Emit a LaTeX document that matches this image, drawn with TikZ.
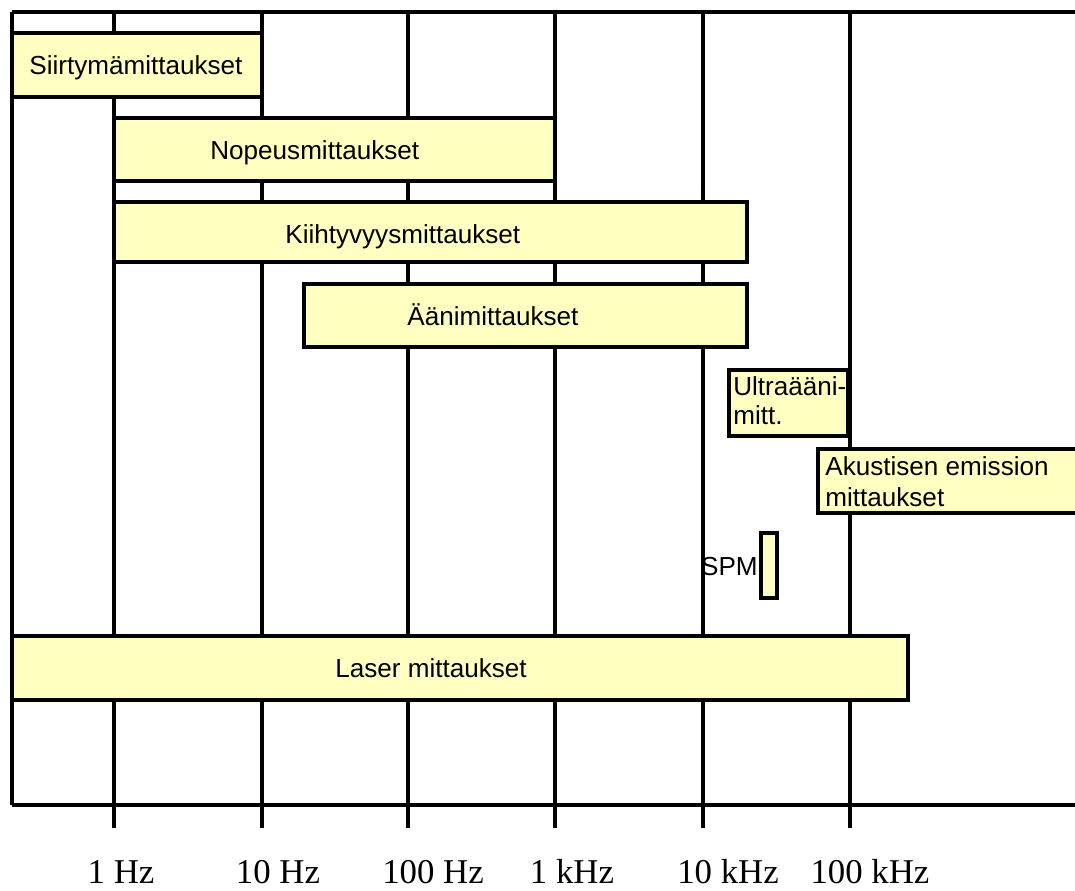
\documentclass[tikz,border=0pt]{standalone}
\usepackage{fontspec}
\setmainfont{Liberation Serif}
\setsansfont{Liberation Sans}
\definecolor{barfill}{RGB}{255,255,194}
\tikzstyle{gridline}=[line width=1.8pt]
\tikzstyle{thickline}=[line width=2.8pt]
\tikzstyle{bar}=[draw,fill=barfill,line width=2pt]
\tikzstyle{txt}=[inner sep=0pt,font=\sffamily\fontsize{14.85}{17.4}\selectfont]
\tikzstyle{freq}=[inner sep=0pt,font=\fontsize{19.8}{22}\selectfont]

\begin{document}
\begin{tikzpicture}[x=0.02cm,y=-0.02cm]
	\useasboundingbox (0,0) rectangle (1075,890);
	\clip (0,0) rectangle (1075,890);
	% frame and decades
	\draw[line width=2.2pt] (12,12) -- (1075,12);
	\draw[gridline] (12,12) -- (12,805);
	\draw[gridline] (114,12) -- (114,828);
	\draw[gridline] (262,12) -- (262,828);
	\draw[gridline] (408,12) -- (408,828);
	\draw[gridline] (555,12) -- (555,828);
	\draw[thickline] (703,12) -- (703,828);
	\draw[gridline] (850,12) -- (850,828);
	\draw[thickline] (12,805) -- (1075,805);
	% ranges
	\draw[bar] (12,33) rectangle (262,97);
	\draw[bar] (114,118) rectangle (555,181);
	\draw[bar] (114,202) rectangle (747,262);
	\draw[bar] (304,284) rectangle (747,347);
	\draw[bar] (729,370) rectangle (848,436);
	\draw[bar] (818,449) rectangle (1090,513);
	\draw[bar] (761,533) rectangle (777,598);
	\draw[bar] (12,636) rectangle (908,700);
	\node[txt,anchor=base west] (siirtyma) at (29,74) {Siirtymämittaukset};
	\node[txt,anchor=base west] (nopeus) at (210,159) {Nopeusmittaukset};
	\node[txt,anchor=base west] (kiihtyvyys) at (285,243) {Kiihtyvyysmittaukset};
	\node[txt,anchor=base west] (aani) at (407,325) {Äänimittaukset};
	\node[txt,anchor=north west,align=left,font=\sffamily\fontsize{14.85}{16.4}\selectfont] (ultra) at (733,376) {Ultraääni-\\mitt.};
	\node[txt,anchor=north west,align=left,font=\sffamily\fontsize{14.85}{17.6}\selectfont] (akustinen) at (825,456) {Akustisen emission\\mittaukset};
	\node[txt,anchor=base east] (spm) at (758,575) {SPM};
	\node[txt,anchor=base west] (laser) at (335,677) {Laser mittaukset};
	% frequency labels
	\node[freq,anchor=base] (hz1) at (121,883) {1 Hz};
	\node[freq,anchor=base] (hz10) at (278,883) {10 Hz};
	\node[freq,anchor=base] (hz100) at (433,883) {100 Hz};
	\node[freq,anchor=base] (khz1) at (572,883) {1 kHz};
	\node[freq,anchor=base] (khz10) at (728,883) {10 kHz};
	\node[freq,anchor=base] (khz100) at (870,883) {100 kHz};
\end{tikzpicture}
\end{document}
